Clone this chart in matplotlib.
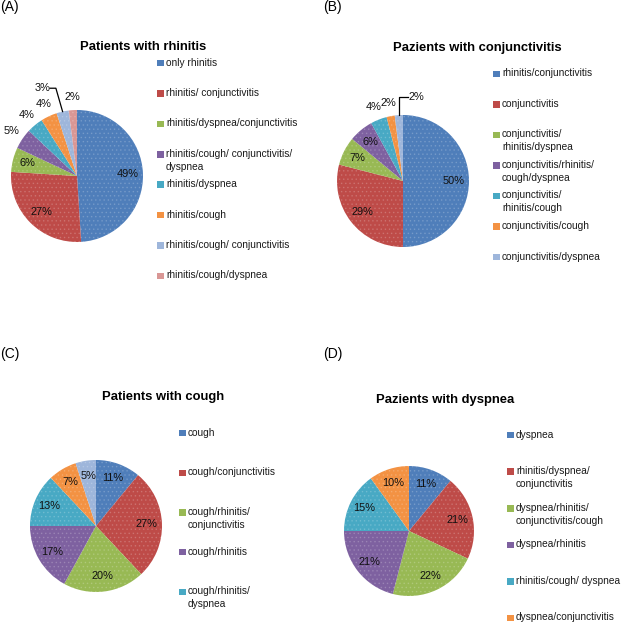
import numpy as np
import matplotlib
matplotlib.use('Agg')
import matplotlib.pyplot as plt
from matplotlib.patches import Rectangle

plt.rcParams['font.family'] = ['Liberation Sans', 'DejaVu Sans']
plt.rcParams['hatch.linewidth'] = 0.6

W, H = 621, 623

# data
a_values = [49, 27, 6, 5, 4, 4, 3, 2]
a_labels = ['only rhinitis', 'rhinitis/ conjunctivitis', 'rhinitis/dyspnea/conjunctivitis',
            'rhinitis/cough/ conjunctivitis/\ndyspnea', 'rhinitis/dyspnea', 'rhinitis/cough',
            'rhinitis/cough/ conjunctivitis', 'rhinitis/cough/dyspnea']

b_values = [50, 29, 7, 6, 4, 2, 2]
b_labels = ['rhinitis/conjunctivitis', 'conjunctivitis', 'conjunctivitis/\nrhinitis/dyspnea',
            'conjunctivitis/rhinitis/\ncough/dyspnea', 'conjunctivitis/\nrhinitis/cough',
            'conjunctivitis/cough', 'conjunctivitis/dyspnea']

c_values = [11, 27, 20, 17, 13, 7, 5]
c_labels = ['cough', 'cough/conjunctivitis', 'cough/rhinitis/\nconjunctivitis',
            'cough/rhinitis', 'cough/rhinitis/\ndyspnea']

d_values = [11, 21, 22, 21, 15, 10]
d_labels = ['dyspnea', 'rhinitis/dyspnea/\nconjunctivitis', 'dyspnea/rhinitis/\nconjunctivitis/cough',
            'dyspnea/rhinitis', 'rhinitis/cough/ dyspnea', 'dyspnea/conjunctivitis']

colors = ['#4F7EBA', '#BE4B48', '#98B954', '#7E61A0', '#48A9C4', '#F39243', '#9EB6DB', '#D99795']

fig = plt.figure(figsize=(W / 100, H / 100), dpi=100)


def fx(px):
    return px / W


def fy(py):
    return 1 - py / H


def draw_pie(cx, cy, R, values, n_out, lbl_pos=None):
    L = 1.5
    ax = fig.add_axes([fx(cx - L * R), fy(cy + L * R), 2 * L * R / W, 2 * L * R / H])
    wedges, _ = ax.pie(values, colors=colors[:len(values)], startangle=90, counterclock=False,
                       wedgeprops=dict(linewidth=0))
    # dotted texture on top of the slices
    ax.pie(values, colors=['none'] * len(values), startangle=90, counterclock=False,
           wedgeprops=dict(linewidth=0, edgecolor=(1, 1, 1, 0.16), hatch='....'))
    ax.set_xlim(-L, L)
    ax.set_ylim(-L, L)
    for i, w in enumerate(wedges):
        ang = np.deg2rad((w.theta1 + w.theta2) / 2)
        outside = i >= len(values) - n_out
        r = 1.2 if outside else 0.77
        x, y = r * np.cos(ang), r * np.sin(ang)
        if lbl_pos and i in lbl_pos:
            x, y = lbl_pos[i]
        ax.text(x, y, '%d%%' % values[i], ha='center', va='center', fontsize=7.9, color='#111111')
    return ax, wedges


def draw_legend(x, y0, step, labels):
    for i, lab in enumerate(labels):
        y = y0 + i * step
        fig.patches.append(Rectangle((fx(x), fy(y + 3.3)), 6.5 / W, 6.5 / H, transform=fig.transFigure,
                                     facecolor=colors[i], edgecolor='none'))
        fig.text(fx(x + 9), fy(y - 5.5), lab, ha='left', va='top', fontsize=7.3,
                 linespacing=1.35, color='#1a1a1a')


def edge_point(w):
    ang = np.deg2rad((w.theta1 + w.theta2) / 2)
    return np.cos(ang), np.sin(ang)


# (A)
axA, wA = draw_pie(77, 176, 66, a_values, 5, {6: (-0.52, 1.33)})
ex, ey = edge_point(wA[6])
axA.plot([-0.41, -0.32, ex], [1.33, 1.33, ey], color='black', lw=0.9, clip_on=False)
fig.text(fx(143), fy(47), 'Patients with rhinitis', ha='center', va='center', fontsize=9.4, fontweight='bold')
draw_legend(157, 63, 30.4, a_labels)

# (B)
axB, wB = draw_pie(403, 181, 66, b_values, 3, {6: (0.2, 1.27)})
ex, ey = edge_point(wB[6])
axB.plot([0.07, ex, ex], [1.27, 1.27, ey], color='black', lw=0.9, clip_on=False)
fig.text(fx(477), fy(48), 'Pazients with conjunctivitis', ha='center', va='center', fontsize=9.4, fontweight='bold')
draw_legend(493, 74, 30.5, b_labels)

# (C)
draw_pie(96, 526, 66, c_values, 0)
fig.text(fx(163), fy(397), 'Patients with cough', ha='center', va='center', fontsize=9.4, fontweight='bold')
draw_legend(179, 433, 39.7, c_labels)

# (D)
draw_pie(409, 531, 65, d_values, 0)
fig.text(fx(445), fy(400), 'Pazients with dyspnea', ha='center', va='center', fontsize=9.4, fontweight='bold')
draw_legend(507, 435, 36.6, d_labels)

for lab, px, py in [('(A)', 0, 7), ('(B)', 323, 7), ('(C)', 0, 354), ('(D)', 323, 354)]:
    fig.text(fx(px), fy(py), lab, ha='left', va='center', fontsize=10)

fig.savefig('out.png', dpi=100)
